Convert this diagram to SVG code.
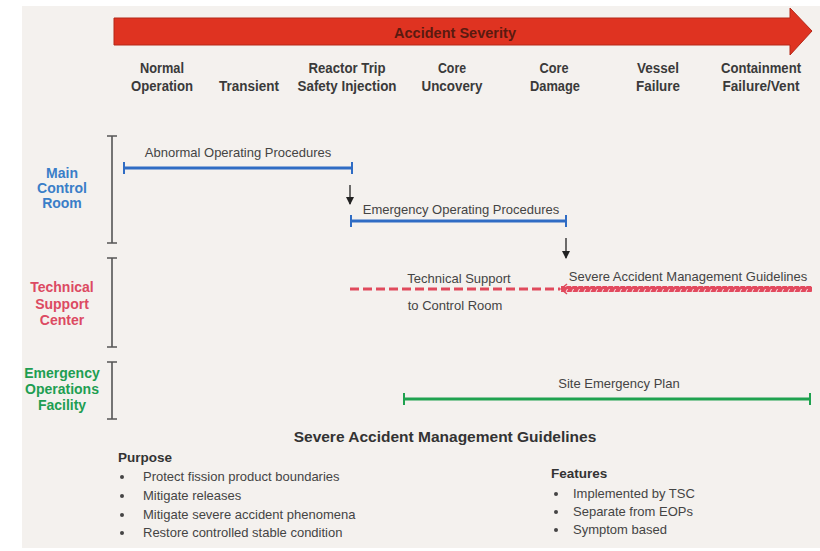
<svg xmlns="http://www.w3.org/2000/svg" width="820" height="551" viewBox="0 0 820 551">
<defs>
<style>
.hdr{font-family:"Liberation Sans",Arial,sans-serif;font-weight:bold;font-size:14.5px;fill:#3a3a3a;text-anchor:middle}
.row{font-family:"Liberation Sans",Arial,sans-serif;font-weight:bold;font-size:14px;text-anchor:middle}
.lbl{font-family:"Liberation Sans",Arial,sans-serif;font-size:13px;fill:#444}
.bold{font-family:"Liberation Sans",Arial,sans-serif;font-weight:bold;fill:#333}
.txt{font-family:"Liberation Sans",Arial,sans-serif;font-size:13px;fill:#444}
.bar{stroke:#555;stroke-width:1.6;fill:none}
.blue{stroke:#2f6cc4;stroke-width:3;fill:none}
.green{stroke:#1fa24f;stroke-width:3;fill:none}
.tick{stroke-width:2}
</style>
<pattern id="hatch" patternUnits="userSpaceOnUse" width="6" height="6">
<rect width="6" height="6" fill="#e24a5e"/>
<line x1="1.5" y1="5" x2="3.5" y2="1" stroke="#fbe6ea" stroke-width="1"/>
</pattern>
<marker id="dn" markerWidth="8" markerHeight="8" refX="7" refY="4" orient="auto" markerUnits="userSpaceOnUse">
<path d="M0,0 L8,4 L0,8 Z" fill="#222"/>
</marker>
</defs>
<rect x="0" y="0" width="820" height="551" fill="#ffffff"/>
<rect x="22" y="6" width="798" height="542" fill="#f4f1ee"/>

<g id="severity-arrow">
<path d="M114,18 L790,18 L790,8 L812,31 L790,55 L790,45 L114,45 Z" fill="#df3321" stroke="#b52818" stroke-width="1"/>
<text x="455" y="38" class="bold" style="font-size:14.5px;fill:#5a1a10" text-anchor="middle" textLength="122" lengthAdjust="spacingAndGlyphs">Accident Severity</text>
</g>

<g id="stages">
<text class="hdr" x="162" y="73" textLength="44" lengthAdjust="spacingAndGlyphs">Normal</text>
<text class="hdr" x="162" y="91" textLength="62" lengthAdjust="spacingAndGlyphs">Operation</text>
<text class="hdr" x="249" y="91" textLength="60" lengthAdjust="spacingAndGlyphs">Transient</text>
<text class="hdr" x="347" y="73" textLength="77" lengthAdjust="spacingAndGlyphs">Reactor Trip</text>
<text class="hdr" x="347" y="91" textLength="99" lengthAdjust="spacingAndGlyphs">Safety Injection</text>
<text class="hdr" x="452" y="73" textLength="28" lengthAdjust="spacingAndGlyphs">Core</text>
<text class="hdr" x="452" y="91" textLength="61" lengthAdjust="spacingAndGlyphs">Uncovery</text>
<text class="hdr" x="554" y="73" textLength="29" lengthAdjust="spacingAndGlyphs">Core</text>
<text class="hdr" x="555" y="91" textLength="50" lengthAdjust="spacingAndGlyphs">Damage</text>
<text class="hdr" x="658" y="73" textLength="42" lengthAdjust="spacingAndGlyphs">Vessel</text>
<text class="hdr" x="658" y="91" textLength="44" lengthAdjust="spacingAndGlyphs">Failure</text>
<text class="hdr" x="761" y="73" textLength="80" lengthAdjust="spacingAndGlyphs">Containment</text>
<text class="hdr" x="761" y="91" textLength="77" lengthAdjust="spacingAndGlyphs">Failure/Vent</text>
</g>

<g id="main-control-room">
<text class="row" fill="#3a7ec8" x="62" y="178">Main</text>
<text class="row" fill="#3a7ec8" x="62" y="193">Control</text>
<text class="row" fill="#3a7ec8" x="62" y="208">Room</text>
<path class="bar" d="M112,136 V243 M107,136 H117 M107,243 H117"/>
</g>

<g id="technical-support-center">
<text class="row" fill="#dc4a62" x="62" y="292">Technical</text>
<text class="row" fill="#dc4a62" x="62" y="309">Support</text>
<text class="row" fill="#dc4a62" x="62" y="325">Center</text>
<path class="bar" d="M112,258 V347 M107,258 H117 M107,347 H117"/>
</g>

<g id="emergency-operations-facility">
<text class="row" fill="#1e9e52" x="62" y="378">Emergency</text>
<text class="row" fill="#1e9e52" x="62" y="394">Operations</text>
<text class="row" fill="#1e9e52" x="62" y="410">Facility</text>
<path class="bar" d="M112,362 V419 M107,362 H117 M107,419 H117"/>
</g>

<g id="abnormal-operating-procedures">
<text class="lbl" x="238" y="157" text-anchor="middle">Abnormal Operating Procedures</text>
<path class="blue" d="M124,168 H352"/>
<path class="blue tick" d="M124,162 V174 M352,162 V174"/>
</g>

<g id="emergency-operating-procedures">
<text class="lbl" x="461" y="214" text-anchor="middle">Emergency Operating Procedures</text>
<path class="blue" d="M351,221 H566"/>
<path class="blue tick" d="M351,215 V227 M566,215 V227"/>
</g>

<g id="technical-support">
<text class="lbl" x="459" y="283" text-anchor="middle">Technical Support</text>
<text class="lbl" x="455" y="310" text-anchor="middle">to Control Room</text>
<path d="M350,289 H560" stroke="#e04a5c" stroke-width="3" stroke-dasharray="9,4" fill="none"/>
</g>

<g id="samg">
<text class="lbl" x="688" y="281" text-anchor="middle">Severe Accident Management Guidelines</text>
<rect x="561" y="286" width="251" height="6" fill="url(#hatch)"/>
<path d="M567,284 L561,289 L567,294" stroke="#e04a5c" stroke-width="1.5" fill="none"/>
</g>

<g id="site-emergency-plan">
<text class="lbl" x="619" y="388" text-anchor="middle">Site Emergency Plan</text>
<path class="green" d="M404,399 H810"/>
<path class="green tick" d="M404,393 V405 M810,393 V405"/>
</g>

<g id="connectors">
<line x1="350" y1="185" x2="350" y2="204" stroke="#222" stroke-width="1.3" marker-end="url(#dn)"/>
<line x1="566" y1="238" x2="566" y2="258" stroke="#222" stroke-width="1.3" marker-end="url(#dn)"/>
</g>

<g id="samg-notes">
<text class="bold" x="445" y="442" text-anchor="middle" style="font-size:15.5px">Severe Accident Management Guidelines</text>
<text class="bold" x="118" y="462" style="font-size:13.5px">Purpose</text>
<g class="txt">
<circle cx="122" cy="477" r="2" fill="#444"/><text x="143" y="481">Protect fission product boundaries</text>
<circle cx="122" cy="496" r="2" fill="#444"/><text x="143" y="500">Mitigate releases</text>
<circle cx="122" cy="515" r="2" fill="#444"/><text x="143" y="519">Mitigate severe accident phenomena</text>
<circle cx="122" cy="533" r="2" fill="#444"/><text x="143" y="537">Restore controlled stable condition</text>
</g>
<text class="bold" x="551" y="478" style="font-size:13.5px">Features</text>
<g class="txt">
<circle cx="556" cy="494" r="2" fill="#444"/><text x="573" y="498">Implemented by TSC</text>
<circle cx="556" cy="512" r="2" fill="#444"/><text x="573" y="516">Separate from EOPs</text>
<circle cx="556" cy="530" r="2" fill="#444"/><text x="573" y="534">Symptom based</text>
</g>
</g>
</svg>
